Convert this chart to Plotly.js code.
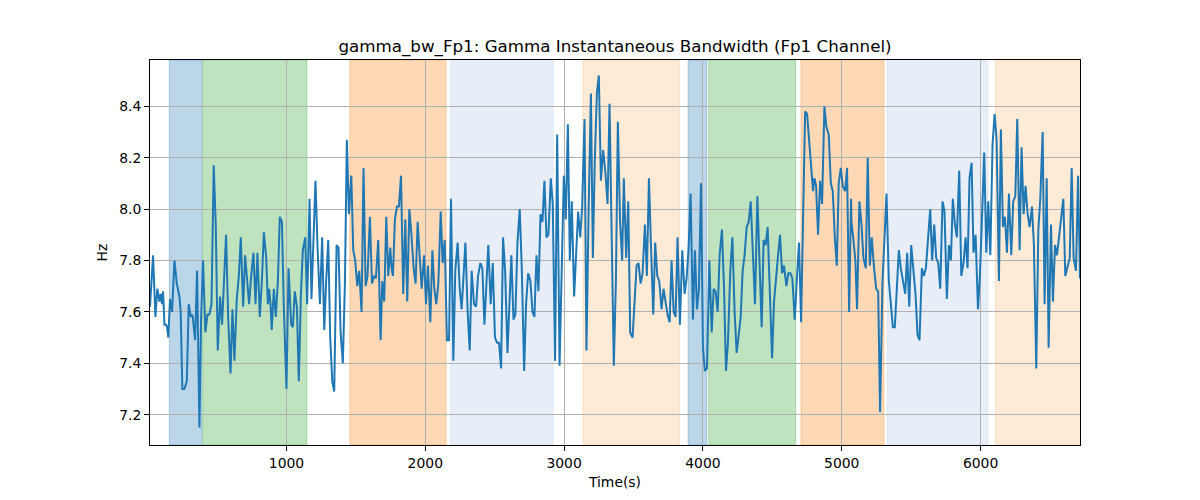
<!DOCTYPE html>
<html>
<head>
<meta charset="utf-8">
<script src="https://cdn.plot.ly/plotly-3.0.1.min.js"></script>
<style>
  html, body { margin: 0; padding: 0; background: #fff; }
  #grafica { width: 1200px; height: 500px; }
</style>
</head>
<body>
<div id="grafica"></div>
<script>
//TIEMPOS (s) DE CADA MUESTRA
const tiempos = [
  17,39,56,70,85,94,104,111,121,133,140,149,161,176,193,210,229,238,250,265,282,296,311,318,325,342,356,373,385,399,
  416,431,445,460,476,491,505,522,536,551,565,580,597,611,625,642,657,671,688,702,717,731,746,762,777,791,808,823,837,
  854,866,875,885,894,909,923,938,952,967,981,1000,1015,1034,1046,1060,1075,1089,1104,1118,1135,1149,1166,1180,1195,1209,1224,1241,1257,1272,
  1286,1301,1315,1330,1344,1361,1375,1390,1406,1421,1435,1450,1467,1481,1495,1510,1524,1541,1555,1570,1584,1601,1616,1630,1644,1661,1678,1690,
  1704,1719,1733,1748,1757,1767,1781,1796,1810,1825,1841,1856,1870,1885,1899,1916,1930,1945,1959,1974,1991,2005,2019,2036,2051,2065,2079,2094,2111,2125,
  2140,2156,2171,2185,2202,2216,2233,2248,2262,2277,2289,2305,2320,2334,2351,2366,2380,2397,2411,2426,2440,2454,2471,2486,2502,2517,2531,
  2546,2560,2575,2592,2606,2620,2635,2649,2664,2680,2695,2712,2726,2741,2757,2772,2786,2801,2815,2830,2844,2858,2873,2887,2904,2918,2935,2950,2967,2981,
  2998,3012,3027,3041,3055,3072,3087,3101,3116,3130,3147,3161,3176,3193,3207,3221,3236,3250,3265,3281,3296,3313,3327,3342,3358,3373,
  3387,3403,3418,3430,3447,3462,3476,3493,3507,3522,3536,3551,3565,3582,3596,3611,3625,3642,3656,3671,3685,3702,3716,3731,3745,3760,3774,3789,3803,3817,
  3834,3851,3868,3882,3897,3911,3928,3942,3957,3971,3986,4000,4014,4029,4046,4063,4077,4091,4106,4120,4137,4152,4166,4180,4197,4212,
  4228,4243,4257,4272,4286,4300,4315,4329,4344,4361,4375,4392,4406,4423,4437,4452,4466,4483,4498,4512,4526,4541,4555,4570,4584,4601,4615,4630,4644,4661,
  4676,4692,4707,4721,4736,4750,4764,4779,4793,4803,4815,4829,4844,4858,4875,4889,4906,4921,4935,4950,4964,4978,4993,5007,5024,5038,5053,5067,
  5070,5084,5098,5110,5127,5142,5156,5173,5187,5202,5216,5231,5248,5262,5276,5293,5308,5322,5339,5353,5368,5382,5397,5411,5425,5440,5457,5471,5486,5500,
  5517,5531,5546,5560,5577,5591,5606,5623,5637,5651,5666,5680,5695,5709,5726,5740,5757,5772,5786,5800,5815,5829,5846,5861,5877,5892,5906,
  5920,5935,5949,5964,5981,5995,6009,6026,6041,6055,6070,6086,6101,6115,6132,6146,6161,6175,6190,6204,6221,6235,6250,6264,6281,6295,6310,6324,6339,6353,
  6370,6384,6401,6416,6430,6447,6461,6476,6490,6507,6521,6536,6550,6567,6582,6596,6610,6625,6642,6656,6670,6687,6702,6716
];

//ANCHO DE BANDA INSTANTANEO GAMMA (Hz)
const ancho_banda = [
  7.62,7.82,7.58,7.69,7.64,7.67,7.63,7.68,7.55,7.55,7.54,7.50,7.65,7.60,7.80,7.71,7.66,7.60,7.30,7.30,7.33,7.63,7.58,7.59,7.58,7.49,7.76,7.15,7.57,7.80,
  7.52,7.59,7.59,7.63,8.17,7.93,7.45,7.66,7.55,7.72,7.90,7.58,7.36,7.61,7.41,7.65,7.74,7.89,7.62,7.82,7.72,7.63,7.74,7.83,7.63,7.83,7.58,7.72,7.91,
  7.81,7.63,7.69,7.63,7.53,7.69,7.58,7.72,7.97,7.95,7.62,7.30,7.77,7.55,7.54,7.68,7.62,7.33,7.67,7.84,7.89,7.63,8.04,7.65,7.93,8.11,7.85,7.63,7.89,7.53,
  7.72,7.88,7.50,7.33,7.29,7.86,7.85,7.52,7.40,7.71,8.27,7.98,8.13,7.84,7.80,7.70,7.76,7.60,8.16,7.70,7.74,7.97,7.71,7.74,7.73,7.88,7.49,7.72,
  7.64,7.97,7.74,7.85,7.77,7.74,7.96,8.01,8.01,8.13,7.67,7.96,7.64,8.00,7.91,7.77,7.71,7.95,7.82,7.69,7.82,7.63,7.78,7.56,7.84,7.69,7.63,7.71,7.99,7.79,
  7.88,7.49,7.49,8.04,7.41,7.76,7.87,7.69,7.61,7.76,7.87,7.60,7.45,7.76,7.63,7.62,7.74,7.79,7.77,7.55,7.72,7.86,7.63,7.79,7.50,7.48,7.48,
  7.38,7.89,7.76,7.44,7.64,7.82,7.57,7.59,7.87,8.00,7.77,7.37,7.63,7.75,7.72,7.60,7.58,7.82,7.68,7.98,7.95,8.11,7.89,7.90,8.12,8.02,7.41,8.29,7.39,7.69,
  8.13,7.96,8.33,7.80,8.03,7.66,7.84,7.99,7.89,8.01,8.35,7.45,7.98,8.45,7.81,8.19,8.45,8.52,8.11,8.23,8.15,8.02,8.41,7.93,7.39,7.72,
  8.34,7.95,7.80,8.12,7.81,8.03,7.52,7.50,7.66,7.78,7.79,7.71,7.75,7.94,7.74,8.12,7.87,7.59,7.87,7.74,7.72,7.61,7.69,7.64,7.59,7.56,7.80,7.60,7.58,7.89,
  7.55,7.84,7.67,7.73,7.85,8.06,7.57,7.84,7.61,7.69,8.10,7.46,7.37,7.38,7.80,7.52,7.69,7.68,7.60,7.82,7.92,7.69,7.37,7.48,7.76,7.89,
  7.60,7.44,7.50,7.58,7.76,7.82,7.93,7.95,8.03,7.82,7.63,8.05,7.80,7.54,7.88,7.86,7.93,7.64,7.42,7.64,7.74,7.82,7.90,7.75,7.78,7.70,7.75,7.75,7.73,7.57,
  7.72,7.87,7.56,7.90,8.38,8.37,8.28,8.19,8.07,8.12,8.09,7.90,8.11,8.02,8.40,8.32,8.29,8.10,8.07,7.89,7.78,8.10,8.16,8.09,8.07,8.16,7.60,8.04,
  7.95,7.88,7.80,7.61,8.03,7.94,7.81,7.77,8.20,7.78,7.89,7.78,7.69,7.68,7.21,7.71,7.92,8.06,7.72,7.64,7.54,7.54,7.69,7.84,7.77,7.72,7.67,7.83,7.62,7.86,
  7.77,7.67,7.51,7.49,7.77,7.74,7.77,7.88,8.00,7.80,7.94,7.81,7.79,7.69,8.03,7.99,7.65,7.86,7.80,8.04,7.94,7.89,8.15,7.74,7.79,7.89,7.77,
  8.12,8.18,7.83,7.90,7.61,7.74,7.95,8.22,7.83,8.03,7.82,8.25,8.37,8.27,7.72,8.31,7.93,7.97,7.83,8.06,7.82,8.03,8.05,8.35,7.84,8.24,7.98,8.09,7.98,7.93,
  8.01,7.86,7.38,7.92,8.04,8.30,7.63,8.12,7.46,7.94,7.64,7.86,7.82,7.90,7.98,8.04,7.74,7.77,7.81,8.16,7.81,7.76,8.13,7.73
];

//FASES SOMBREADAS (INICIO Y FIN EN s)
const inicio_fases = [156, 397, 1456, 2183, 3135, 3893, 4041, 4706, 5326, 6106];
const fin_fases    = [391, 1148, 2150, 2922, 3832, 4028, 4668, 5304, 6053, 6760];

//TICKS
const ticks_x = [1000, 2000, 3000, 4000, 5000, 6000];
const ticks_y = [7.2, 7.4, 7.6, 7.8, 8.0, 8.2, 8.4];

//COLORES DE LAS FASES (tab10 / tab20 con alpha 0.3)
const colores_fases = ['31,119,180', '44,160,44', '255,127,14', '174,199,232', '255,187,120',
                       '31,119,180', '44,160,44', '255,127,14', '174,199,232', '255,187,120'];

let formas = [];
inicio_fases.forEach(function(item, index){
  formas.push({
    type: 'rect',
    xref: 'x', yref: 'paper',
    x0: item, x1: fin_fases[index],
    y0: 0, y1: 1,
    fillcolor: 'rgba(' + colores_fases[index] + ',0.3)',
    line: { color: 'rgba(' + colores_fases[index] + ',0.3)', width: 1 },
    layer: 'below'
  });
});

const traza = {
  type: 'scatter',
  mode: 'lines',
  x: tiempos,
  y: ancho_banda,
  line: { color: '#1f77b4', width: 2 },
  hoverinfo: 'x+y'
};

const fuente = { family: 'DejaVu Sans, sans-serif', size: 13.9, color: '#000' };

const eje_comun = {
  showgrid: true,
  gridcolor: '#b0b0b0',
  gridwidth: 1,
  zeroline: false,
  showline: true,
  mirror: true,
  linecolor: '#000',
  linewidth: 1,
  ticks: 'outside',
  ticklen: 5,
  tickwidth: 1,
  tickcolor: '#000',
  tickfont: fuente
};

const layout = {
  width: 1200,
  height: 500,
  paper_bgcolor: '#fff',
  plot_bgcolor: '#fff',
  showlegend: false,
  font: fuente,
  margin: { l: 150, r: 120, t: 60, b: 55 },
  title: {
    text: 'gamma_bw_Fp1: Gamma Instantaneous Bandwidth (Fp1 Channel)',
    font: { family: 'DejaVu Sans, sans-serif', size: 16.7, color: '#000' },
    xref: 'paper', x: 0.5, xanchor: 'center',
    yref: 'container', y: 0.908, yanchor: 'middle'
  },
  xaxis: Object.assign({}, eje_comun, {
    range: [tiempos[0], tiempos[tiempos.length - 1]],
    tickvals: ticks_x,
    ticktext: ticks_x.map(String),
    title: { text: 'Time(s)', font: fuente, standoff: 7 }
  }),
  yaxis: Object.assign({}, eje_comun, {
    range: [7.082, 8.58],
    tickvals: ticks_y,
    ticktext: ticks_y.map(function(v){ return v.toFixed(1); }),
    title: { text: 'Hz', font: fuente, standoff: 8 }
  }),
  shapes: formas
};

Plotly.newPlot('grafica', [traza], layout, { displayModeBar: false, staticPlot: true });
</script>
</body>
</html>
